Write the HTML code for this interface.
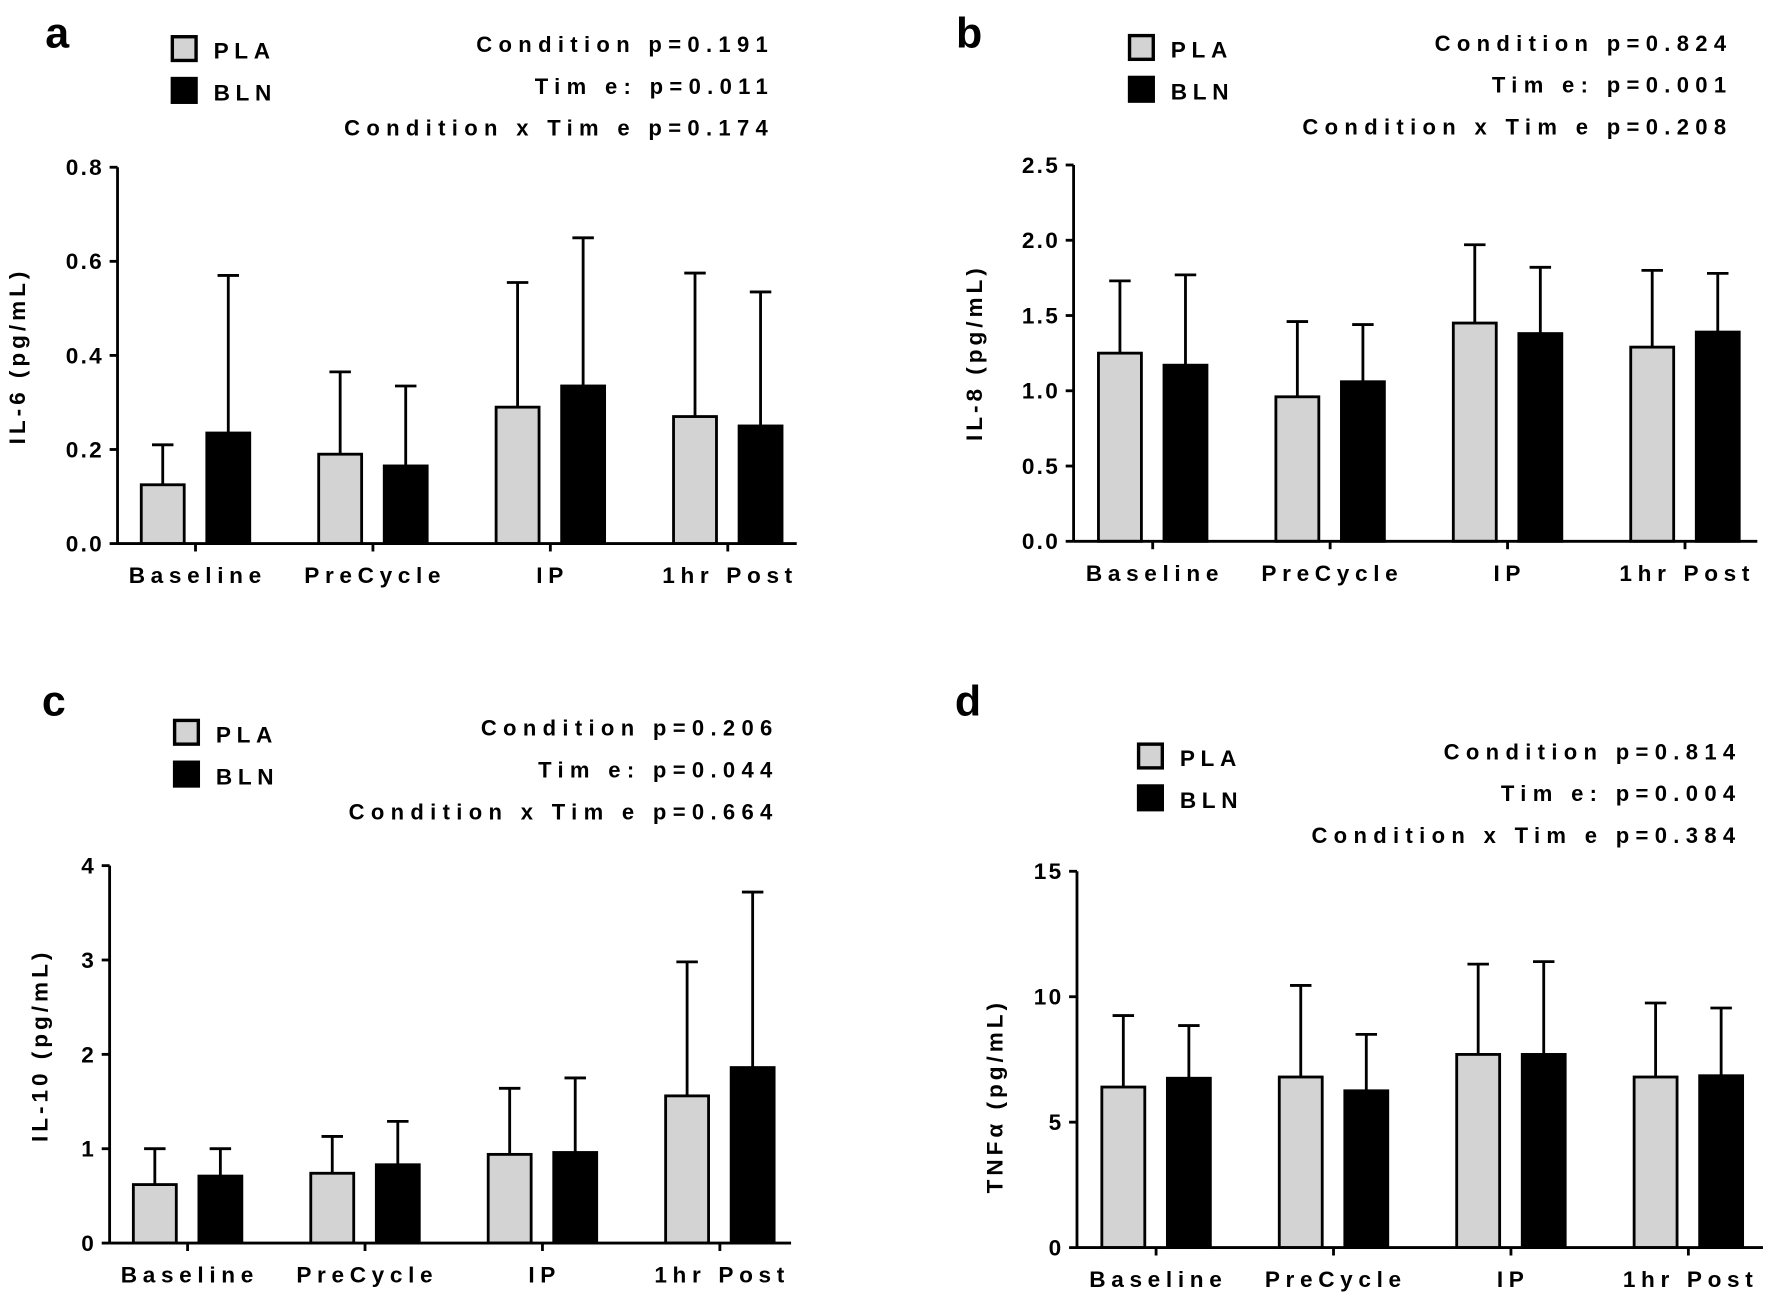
<!DOCTYPE html>
<html><head><meta charset="utf-8"><style>html,body{margin:0;padding:0;background:#fff}svg{display:block}text{font-family:"Liberation Sans",Arial,sans-serif;font-weight:bold;fill:#000}</style></head>
<body>
<svg id="fig" width="1772" height="1298" viewBox="0 0 1568 1148.6" preserveAspectRatio="none" xmlns="http://www.w3.org/2000/svg"></svg>
<script>
const categories = ["Baseline","PreCycle","IP","1hr Post"];
const seriesNames = ["PLA","BLN"];
const aPLA = [0.125,0.19,0.29,0.27], aPLAerr = [0.085,0.175,0.265,0.305];
const aBLN = [0.235,0.165,0.335,0.25], aBLNerr = [0.335,0.17,0.315,0.285];
const bPLA = [1.25,0.96,1.45,1.29], bPLAerr = [0.48,0.50,0.52,0.51];
const bBLN = [1.17,1.06,1.38,1.39], bBLNerr = [0.60,0.38,0.44,0.39];
const cPLA = [0.62,0.74,0.94,1.56], cPLAerr = [0.38,0.39,0.70,1.42];
const cBLN = [0.71,0.83,0.96,1.86], cBLNerr = [0.29,0.46,0.79,1.86];
const dPLA = [6.4,6.8,7.7,6.8], dPLAerr = [2.85,3.65,3.6,2.95];
const dBLN = [6.75,6.25,7.7,6.85], dBLNerr = [2.1,2.25,3.7,2.7];
const aTicks = ["0.0","0.2","0.4","0.6","0.8"];
const bTicks = ["0.0","0.5","1.0","1.5","2.0","2.5"];
const cTicks = ["0","1","2","3","4"];
const dTicks = ["0","5","10","15"];
const aStats = ["Condition p=0.191","Tim e: p=0.011","Condition x Tim e p=0.174"];
const bStats = ["Condition p=0.824","Tim e: p=0.001","Condition x Tim e p=0.208"];
const cStats = ["Condition p=0.206","Tim e: p=0.044","Condition x Tim e p=0.664"];
const dStats = ["Condition p=0.814","Tim e: p=0.004","Condition x Tim e p=0.384"];

const panels = [
 {id:"a",label:"IL-6 (pg/mL)",pla:aPLA,plaE:aPLAerr,bln:aBLN,blnE:aBLNerr,ticks:aTicks,stats:aStats,
  ax:104,y0:481,y1:148,max:0.8,xEnd:705,c0:173,lx:15,lyc:315,letter:[40,42],leg:[151,31],statX:685,statY:46,xlabY:516},
 {id:"b",label:"IL-8 (pg/mL)",pla:bPLA,plaE:bPLAerr,bln:bBLN,blnE:bBLNerr,ticks:bTicks,stats:bStats,
  ax:950,y0:479,y1:146,max:2.5,xEnd:1555,c0:1020,lx:862,lyc:312,letter:[846,42],leg:[998,30],statX:1533,statY:45,xlabY:514},
 {id:"c",label:"IL-10 (pg/mL)",pla:cPLA,plaE:cPLAerr,bln:cBLN,blnE:cBLNerr,ticks:cTicks,stats:cStats,
  ax:97,y0:1100,y1:766,max:4,xEnd:700,c0:166,lx:35,lyc:925,letter:[37,633],leg:[153,636],statX:689,statY:651,xlabY:1135},
 {id:"d",label:"TNFα (pg/mL)",pla:dPLA,plaE:dPLAerr,bln:dBLN,blnE:dBLNerr,ticks:dTicks,stats:dStats,
  ax:953,y0:1104,y1:771,max:15,xEnd:1560,c0:1023,lx:880,lyc:970,letter:[845,633],leg:[1006,657],statX:1541,statY:672,xlabY:1139}
];
const NS="http://www.w3.org/2000/svg";
const svg=document.getElementById('fig');
function mk(tag,attrs,parent,txt){const e=document.createElementNS(NS,tag);for(const k in attrs)e.setAttribute(k,attrs[k]);if(txt!==undefined)e.textContent=txt;(parent||svg).appendChild(e);return e;}
const SP=157, OFF=29, BW=38, CAP=9.5;
panels.forEach(p=>{
  const g=mk('g',{});
  
  
  const y=v=>p.y0-(v/p.max)*(p.y0-p.y1);
  const x=i=>p.c0+i*SP;
  let t=mk('text',{x:p.letter[0],y:p.letter[1],'font-size':38},g,p.id);
  
  
  [[p.pla,'#d3d3d3','PLA'],[p.bln,'#000','BLN']].forEach((s,k)=>{
    const r=mk('rect',{x:p.leg[0]+1.5,y:p.leg[1]+k*37+1.5,width:21,height:21,fill:s[1],stroke:'#000','stroke-width':3},g);
    
    
    const lt=mk('text',{x:p.leg[0]+38,y:p.leg[1]+k*37+21,'font-size':20,'letter-spacing':5},g,s[2]);
    
    
  });
  p.stats.forEach((s,k)=>{
    const st=mk('text',{x:p.statX,y:p.statY+k*37,'font-size':19.5,'letter-spacing':5.6,'text-anchor':'end'},g,s);
    
    
  });
  categories.forEach((c,i)=>{
    [[p.pla,p.plaE,'#d3d3d3',-OFF,'pla'],[p.bln,p.blnE,'#000',OFF,'bln']].forEach(s=>{
      const cx=x(i)+s[3], v=s[0][i], e=s[1][i];
      const el=mk('line',{x1:cx,x2:cx,y1:y(v),y2:y(v+e),stroke:'#000','stroke-width':2.5},g);
      
      
      const cap=mk('line',{x1:cx-CAP,x2:cx+CAP,y1:y(v+e),y2:y(v+e),stroke:'#000','stroke-width':2.5},g);
      
      
      const b=mk('rect',{x:cx-BW/2,y:y(v),width:BW,height:p.y0-y(v),fill:s[2],stroke:'#000','stroke-width':2.5},g);
      
      
    });
    const tk=mk('line',{x1:x(i),x2:x(i),y1:p.y0,y2:p.y0+7,stroke:'#000','stroke-width':2.5},g);
    
    
    const xl=mk('text',{x:x(i)+2,y:p.xlabY,'font-size':20,'letter-spacing':5,'text-anchor':'middle'},g,c);
    
    
  });
  const ya=mk('line',{x1:p.ax,x2:p.ax,y1:p.y1,y2:p.y0,stroke:'#000','stroke-width':2.5},g);
  
  
  const xa=mk('line',{x1:p.ax,x2:p.xEnd,y1:p.y0,y2:p.y0,stroke:'#000','stroke-width':2.5},g);
  
  
  p.ticks.forEach((tl,k)=>{
    const v=k*p.max/(p.ticks.length-1);
    const yl=mk('line',{x1:p.ax-7,x2:p.ax,y1:y(v),y2:y(v),stroke:'#000','stroke-width':2.5},g);
    
    
    const yt=mk('text',{x:p.ax-12,y:y(v)+7,'font-size':20,'letter-spacing':2,'text-anchor':'end'},g,tl);
    
    
  });
  const lab=mk('text',{x:0,y:0,'font-size':20,'letter-spacing':3.5,'text-anchor':'middle',transform:`translate(${p.lx+7},${p.lyc}) rotate(-90)`},g,p.label);
  
  
});
</script>
</body></html>
